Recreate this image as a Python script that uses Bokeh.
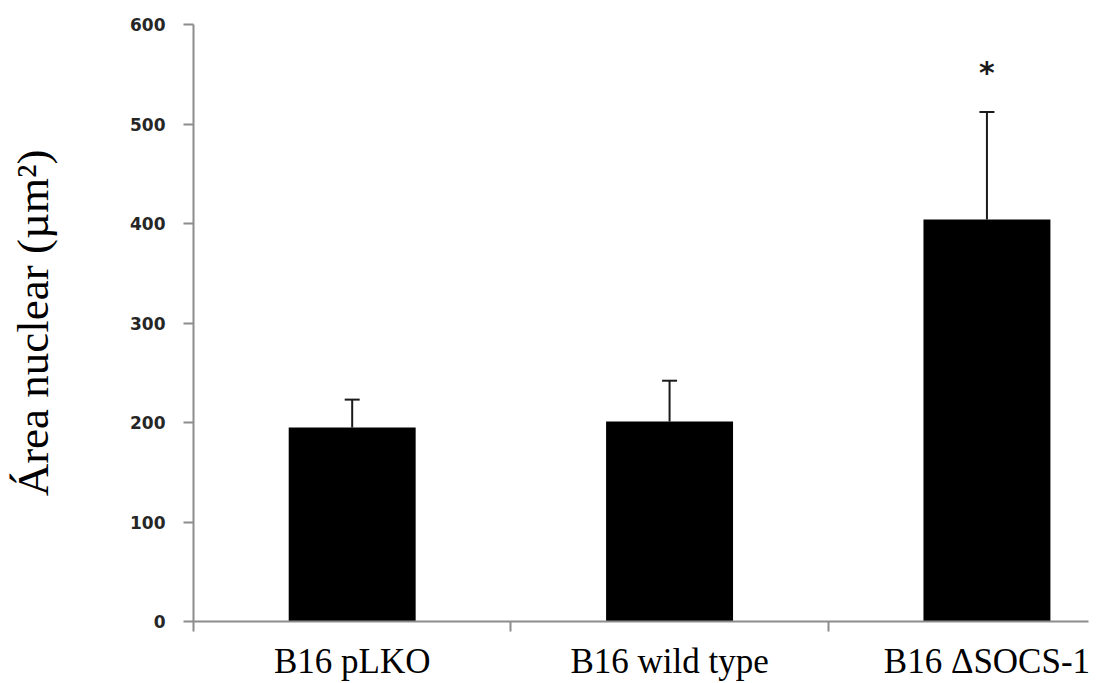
from bokeh.plotting import figure
from bokeh.models import FixedTicker, Range1d, ColumnDataSource, Whisker, TeeHead, Label, LinearAxis
from bokeh.embed import file_html
from bokeh.resources import INLINE

# ---- data ----
categories = ["B16 pLKO", "B16 wild type", "B16 \u0394SOCS-1"]
means = [195, 201, 404]
errors = [28, 41, 108]
significance = ["", "", "*"]
y_ticks = [0, 100, 200, 300, 400, 500, 600]
y_label = "\u00c1rea nuclear (\u00b5m\u00b2)"

xs = list(range(len(categories)))
uppers = [m + e for m, e in zip(means, errors)]

AXIS_GRAY = "#8c8c8c"

p = figure(width=1107, height=683, output_backend="svg", toolbar_location=None,
           x_range=Range1d(-0.5, 2.32), y_range=Range1d(0, 600),
           min_border_left=193, min_border_right=19, min_border_top=24, min_border_bottom=61)
p.outline_line_color = None
p.grid.visible = False
p.background_fill_color = "white"
p.border_fill_color = "white"

src = ColumnDataSource(dict(x=xs, top=means, upper=uppers, label=categories))
p.vbar(x="x", top="top", width=0.4, source=src, fill_color="black", line_color=None)

whisk = Whisker(base="x", lower="top", upper="upper", source=src,
                line_color="#1a1a1a", line_width=2, lower_head=None,
                upper_head=TeeHead(size=15, line_color="#1a1a1a", line_width=2))
p.add_layout(whisk)

for xi, up, s in zip(xs, uppers, significance):
    if s:
        p.add_layout(Label(x=xi, y=up + 40, text=s, text_align="center", text_baseline="middle",
                           text_font="DejaVu Sans", text_font_style="bold",
                           text_font_size="30px", text_color="#1a1a1a"))

# y axis
ya = p.yaxis[0]
ya.ticker = FixedTicker(ticks=y_ticks, minor_ticks=[])
ya.axis_line_color = AXIS_GRAY
ya.axis_line_width = 2
ya.major_tick_line_color = AXIS_GRAY
ya.major_tick_line_width = 2
ya.major_tick_out = 10
ya.major_tick_in = 0
ya.minor_tick_line_color = None
ya.major_label_text_font = "DejaVu Sans"
ya.major_label_text_font_style = "bold"
ya.major_label_text_font_size = "17px"
ya.major_label_text_color = "#262626"
ya.major_label_standoff = 18

# outer, tick-less axis that only carries the y-axis title
lab_ax = LinearAxis(axis_label=y_label, ticker=FixedTicker(ticks=[], minor_ticks=[]),
                    axis_line_color=None, major_tick_line_color=None, minor_tick_line_color=None,
                    major_tick_out=0, major_tick_in=0, minor_tick_out=0, minor_tick_in=0,
                    major_label_standoff=0,
                    axis_label_standoff=70, axis_label_text_font="Liberation Serif",
                    axis_label_text_font_style="normal", axis_label_text_font_size="45px",
                    axis_label_text_color="black")
p.add_layout(lab_ax, "left")

# x axis
xa = p.xaxis[0]
xa.ticker = FixedTicker(ticks=xs, minor_ticks=[x - 0.5 for x in xs])
xa.major_label_overrides = {i: c for i, c in enumerate(categories)}
xa.axis_line_color = AXIS_GRAY
xa.axis_line_width = 2
xa.major_tick_out = 0
xa.major_tick_in = 0
xa.major_tick_line_color = None
xa.minor_tick_line_color = AXIS_GRAY
xa.minor_tick_line_width = 2
xa.minor_tick_out = 10
xa.minor_tick_in = 0
xa.major_label_text_font = "Liberation Serif"
xa.major_label_text_font_size = "35px"
xa.major_label_text_color = "black"
xa.major_label_standoff = 10

open("out.html", "w").write(file_html(p, INLINE))
